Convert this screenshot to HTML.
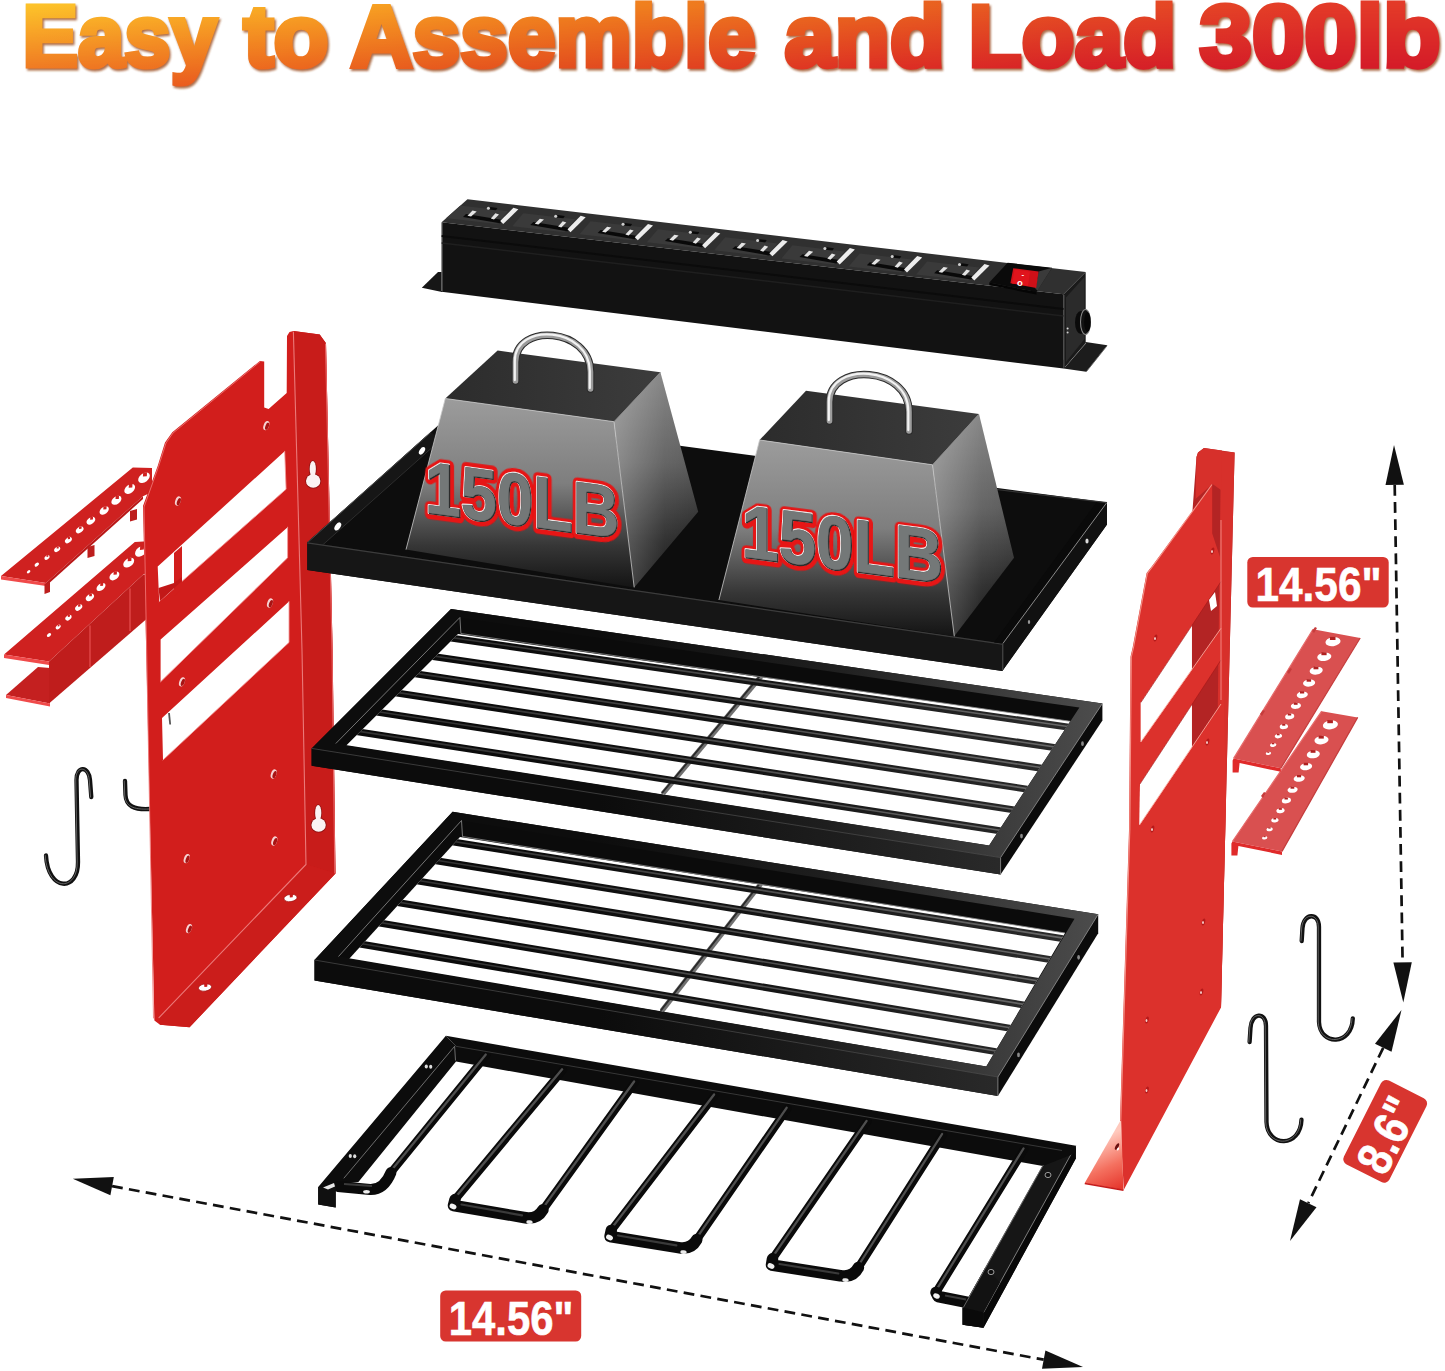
<!DOCTYPE html>
<html lang="en"><head><meta charset="utf-8"><title>Easy to Assemble and Load 300lb</title>
<style>
html,body{margin:0;padding:0;background:#fff;}
body{width:1445px;height:1371px;overflow:hidden;font-family:"Liberation Sans",sans-serif;}
svg{display:block;}
</style></head><body>
<svg width="1445" height="1371" viewBox="0 0 1445 1371">
<rect width="1445" height="1371" fill="#ffffff"/>
<defs>
<linearGradient id="hg" gradientUnits="userSpaceOnUse" x1="20" y1="0" x2="1440" y2="0">
<stop offset="0" stop-color="#f7a51e"/><stop offset="0.16" stop-color="#f3901f"/><stop offset="0.38" stop-color="#ec6a22"/>
<stop offset="0.62" stop-color="#e3402a"/><stop offset="0.82" stop-color="#db2430"/><stop offset="1" stop-color="#d51a32"/>
</linearGradient>
<linearGradient id="hv" gradientUnits="userSpaceOnUse" x1="0" y1="4" x2="0" y2="90">
<stop offset="0" stop-color="#ffd23a" stop-opacity="0.55"/><stop offset="0.55" stop-color="#ffb030" stop-opacity="0.08"/><stop offset="1" stop-color="#d01020" stop-opacity="0.25"/>
</linearGradient>
<linearGradient id="wf" x1="0" y1="0" x2="0" y2="1">
<stop offset="0" stop-color="#9c9c9c"/><stop offset="0.45" stop-color="#7e7e7e"/><stop offset="0.78" stop-color="#363636"/><stop offset="1" stop-color="#141414"/>
</linearGradient>
<linearGradient id="wr" x1="0" y1="0" x2="0" y2="1">
<stop offset="0" stop-color="#808080"/><stop offset="0.42" stop-color="#5c5c5c"/><stop offset="0.78" stop-color="#262626"/><stop offset="1" stop-color="#0e0e0e"/>
</linearGradient>
<linearGradient id="wrh" x1="0" y1="0" x2="1" y2="0">
<stop offset="0" stop-color="#fff" stop-opacity="0.30"/><stop offset="0.6" stop-color="#fff" stop-opacity="0.06"/><stop offset="1" stop-color="#fff" stop-opacity="0"/>
</linearGradient>
<linearGradient id="wt" x1="0" y1="0" x2="1" y2="0">
<stop offset="0" stop-color="#2c2c2c"/><stop offset="1" stop-color="#3c3c3c"/>
</linearGradient>
<filter id="glow" x="-5%" y="-15%" width="110%" height="130%"><feGaussianBlur stdDeviation="0.6"/></filter>
<linearGradient id="hd" x1="0" y1="0" x2="1" y2="0">
<stop offset="0" stop-color="#8a8a8a"/><stop offset="0.5" stop-color="#e8e8e8"/><stop offset="1" stop-color="#777"/>
</linearGradient>
</defs>
<defs>
<linearGradient id="hgt" gradientUnits="userSpaceOnUse" x1="20" y1="0" x2="1440" y2="0"><stop offset="0.007" stop-color="#fdc32a"/><stop offset="0.197" stop-color="#f9aa24"/><stop offset="0.380" stop-color="#f2881e"/><stop offset="0.599" stop-color="#ea691e"/><stop offset="0.739" stop-color="#e65023"/><stop offset="0.915" stop-color="#e33a28"/></linearGradient>
<linearGradient id="hgb" gradientUnits="userSpaceOnUse" x1="20" y1="0" x2="1440" y2="0"><stop offset="0.007" stop-color="#ec6621"/><stop offset="0.197" stop-color="#e8541c"/><stop offset="0.380" stop-color="#df3e1e"/><stop offset="0.599" stop-color="#da2025"/><stop offset="0.739" stop-color="#d21428"/><stop offset="0.915" stop-color="#d01228"/></linearGradient>
<linearGradient id="hmv" gradientUnits="userSpaceOnUse" x1="0" y1="5" x2="0" y2="86"><stop offset="0" stop-color="#000"/><stop offset="1" stop-color="#fff"/></linearGradient>
<mask id="hm" maskUnits="userSpaceOnUse" x="0" y="0" width="1445" height="120"><rect width="1445" height="120" fill="url(#hmv)"/></mask>
<pattern id="hp" patternUnits="userSpaceOnUse" x="0" y="0" width="1445" height="120"><rect width="1445" height="120" fill="url(#hgt)"/><rect width="1445" height="120" fill="url(#hgb)" mask="url(#hm)"/></pattern>
<filter id="hsh" x="-2%" y="-10%" width="104%" height="130%"><feGaussianBlur stdDeviation="0.9"/></filter></defs>
<g font-family="'Liberation Sans', sans-serif" font-weight="700" font-size="88" fill="#9a4a1c" stroke="#9a4a1c" stroke-width="5.0" stroke-linejoin="miter" stroke-miterlimit="2.5" opacity="0.8" filter="url(#hsh)">
<text x="23.9" y="67.8" textLength="194.2" lengthAdjust="spacingAndGlyphs">Easy</text>
<text x="244.9" y="67.8" textLength="85.2" lengthAdjust="spacingAndGlyphs">to</text>
<text x="351.9" y="67.8" textLength="405.1" lengthAdjust="spacingAndGlyphs">Assemble</text>
<text x="785.9" y="67.8" textLength="160.4" lengthAdjust="spacingAndGlyphs">and</text>
<text x="969.9" y="67.8" textLength="207.6" lengthAdjust="spacingAndGlyphs">Load</text>
<text x="1200.9" y="67.8" textLength="241.1" lengthAdjust="spacingAndGlyphs">300lb</text>
</g>
<g font-family="'Liberation Sans', sans-serif" font-weight="700" font-size="88" fill="url(#hp)" stroke="url(#hp)" stroke-width="5.0" stroke-linejoin="miter" stroke-miterlimit="2.5" >
<text x="22.5" y="66.0" textLength="194.2" lengthAdjust="spacingAndGlyphs">Easy</text>
<text x="243.5" y="66.0" textLength="85.2" lengthAdjust="spacingAndGlyphs">to</text>
<text x="350.5" y="66.0" textLength="405.1" lengthAdjust="spacingAndGlyphs">Assemble</text>
<text x="784.5" y="66.0" textLength="160.4" lengthAdjust="spacingAndGlyphs">and</text>
<text x="968.5" y="66.0" textLength="207.6" lengthAdjust="spacingAndGlyphs">Load</text>
<text x="1199.5" y="66.0" textLength="241.1" lengthAdjust="spacingAndGlyphs">300lb</text>
</g>
<polygon points="421.8,287.8 438.0,272.0 442.0,272.0 442.0,292.0" fill="#161616" />
<polygon points="1063.5,360.0 1085.7,341.9 1107.3,345.2 1086.2,371.8 1063.5,368.5" fill="#1c1c1c" />
<line x1="1065.0" y1="367.0" x2="1086.0" y2="343.0" stroke="#8a8a8a" stroke-width="0.9" />
<line x1="1086.5" y1="371.5" x2="1107.0" y2="345.8" stroke="#555" stroke-width="0.8" />
<polygon points="467.5,199.3 1085.7,272.1 1063.5,294.3 441.6,222.3" fill="#303030" />
<polygon points="441.6,222.3 1063.5,294.3 1063.5,368.5 441.6,291.8" fill="#121212" />
<polygon points="1063.5,294.3 1085.7,272.1 1085.7,341.9 1063.5,368.5" fill="#1a1a1a" />
<polygon points="1066.0,297.5 1084.5,277.0 1084.5,339.0 1066.0,362.0" fill="#2b2b2b" />
<line x1="441.9" y1="223.0" x2="441.9" y2="291.0" stroke="#8f8f8f" stroke-width="1.0" />
<line x1="1064.0" y1="295.0" x2="1064.0" y2="367.5" stroke="#4a4a4a" stroke-width="1.0" />
<line x1="441.6" y1="243.0" x2="1063.5" y2="316.0" stroke="#1f1f1f" stroke-width="1.5" />
<line x1="441.6" y1="236.0" x2="1063.5" y2="309.0" stroke="#0b0b0b" stroke-width="2.0" />
<ellipse cx="1081" cy="322.5" rx="6" ry="11.5" fill="#0a0a0a"/>
<ellipse cx="1085.5" cy="322" rx="5" ry="12.5" fill="#111" stroke="#8a8a8a" stroke-width="1.1"/>
<ellipse cx="1087.5" cy="322" rx="3.3" ry="10" fill="#060606"/>
<circle cx="1067.6" cy="328.5" r="1" fill="#ddd"/><circle cx="1067.6" cy="332.5" r="1" fill="#ccc"/>
<clipPath id="cps"><polygon points="467.5,199.3 1085.7,272.1 1063.5,294.3 441.6,222.3"/></clipPath><g clip-path="url(#cps)">
<polygon points="456.0,205.1 508.0,211.2 497.0,224.1 445.0,218.1" fill="#3a3a3a" />
<polygon points="463.0,216.9 500.0,223.2 503.0,219.9 466.0,214.0" fill="#090909" />
<polygon points="490.5,207.0 497.5,207.9 496.0,210.2 489.0,209.4" fill="#0a0a0a" />
<polygon points="513.4,207.8 518.4,209.3 503.2,224.1 500.2,221.1" fill="#ededed" />
<polygon points="472.5,210.6 476.7,211.4 471.1,216.5 467.5,215.7" fill="#e4e4e4" />
<polygon points="495.4,213.3 499.0,214.5 494.0,219.5 490.8,218.4" fill="#e4e4e4" />
<circle cx="488.4" cy="208.2" r="1.5" fill="#cfcfcf"/>
<polygon points="523.3,213.2 575.3,219.2 564.3,232.2 512.3,226.2" fill="#3a3a3a" />
<polygon points="530.3,225.0 567.3,231.2 570.3,228.0 533.3,222.1" fill="#090909" />
<polygon points="557.8,215.1 564.8,216.0 563.3,218.2 556.3,217.5" fill="#0a0a0a" />
<polygon points="580.7,215.8 585.7,217.3 570.5,232.2 567.5,229.2" fill="#ededed" />
<polygon points="539.8,218.7 544.0,219.5 538.4,224.6 534.8,223.8" fill="#e4e4e4" />
<polygon points="562.7,221.3 566.3,222.6 561.3,227.6 558.1,226.5" fill="#e4e4e4" />
<circle cx="555.7" cy="216.2" r="1.5" fill="#cfcfcf"/>
<polygon points="590.6,221.2 642.6,227.3 631.6,240.2 579.6,234.2" fill="#3a3a3a" />
<polygon points="597.6,233.0 634.6,239.3 637.6,236.0 600.6,230.1" fill="#090909" />
<polygon points="625.1,223.1 632.1,224.0 630.6,226.3 623.6,225.5" fill="#0a0a0a" />
<polygon points="648.0,223.9 653.0,225.4 637.8,240.2 634.8,237.2" fill="#ededed" />
<polygon points="607.1,226.7 611.3,227.5 605.7,232.6 602.1,231.8" fill="#e4e4e4" />
<polygon points="630.0,229.4 633.6,230.6 628.6,235.6 625.4,234.5" fill="#e4e4e4" />
<circle cx="623.0" cy="224.3" r="1.5" fill="#cfcfcf"/>
<polygon points="657.9,229.2 709.9,235.3 698.9,248.2 646.9,242.2" fill="#3a3a3a" />
<polygon points="664.9,241.1 701.9,247.3 704.9,244.1 667.9,238.2" fill="#090909" />
<polygon points="692.4,231.2 699.4,232.1 697.9,234.3 690.9,233.6" fill="#0a0a0a" />
<polygon points="715.3,231.9 720.3,233.4 705.1,248.2 702.1,245.2" fill="#ededed" />
<polygon points="674.4,234.8 678.6,235.6 673.0,240.7 669.4,239.8" fill="#e4e4e4" />
<polygon points="697.3,237.4 700.9,238.7 695.9,243.7 692.7,242.6" fill="#e4e4e4" />
<circle cx="690.3" cy="232.3" r="1.5" fill="#cfcfcf"/>
<polygon points="725.2,237.3 777.2,243.4 766.2,256.3 714.2,250.3" fill="#3a3a3a" />
<polygon points="732.2,249.1 769.2,255.4 772.2,252.1 735.2,246.2" fill="#090909" />
<polygon points="759.7,239.2 766.7,240.1 765.2,242.4 758.2,241.6" fill="#0a0a0a" />
<polygon points="782.6,240.0 787.6,241.5 772.4,256.3 769.4,253.3" fill="#ededed" />
<polygon points="741.7,242.8 745.9,243.6 740.3,248.7 736.7,247.9" fill="#e4e4e4" />
<polygon points="764.6,245.5 768.2,246.7 763.2,251.7 760.0,250.6" fill="#e4e4e4" />
<circle cx="757.6" cy="240.4" r="1.5" fill="#cfcfcf"/>
<polygon points="792.5,245.3 844.5,251.4 833.5,264.4 781.5,258.4" fill="#3a3a3a" />
<polygon points="799.5,257.1 836.5,263.4 839.5,260.1 802.5,254.2" fill="#090909" />
<polygon points="827.0,247.2 834.0,248.2 832.5,250.4 825.5,249.7" fill="#0a0a0a" />
<polygon points="849.9,248.0 854.9,249.5 839.7,264.4 836.7,261.4" fill="#ededed" />
<polygon points="809.0,250.8 813.2,251.7 807.6,256.8 804.0,255.9" fill="#e4e4e4" />
<polygon points="831.9,253.5 835.5,254.8 830.5,259.8 827.3,258.6" fill="#e4e4e4" />
<circle cx="824.9" cy="248.4" r="1.5" fill="#cfcfcf"/>
<polygon points="859.8,253.4 911.8,259.5 900.8,272.4 848.8,266.4" fill="#3a3a3a" />
<polygon points="866.8,265.2 903.8,271.5 906.8,268.2 869.8,262.3" fill="#090909" />
<polygon points="894.3,255.3 901.3,256.2 899.8,258.5 892.8,257.7" fill="#0a0a0a" />
<polygon points="917.2,256.1 922.2,257.6 907.0,272.4 904.0,269.4" fill="#ededed" />
<polygon points="876.3,258.9 880.5,259.7 874.9,264.8 871.3,264.0" fill="#e4e4e4" />
<polygon points="899.2,261.6 902.8,262.8 897.8,267.8 894.6,266.7" fill="#e4e4e4" />
<circle cx="892.2" cy="256.5" r="1.5" fill="#cfcfcf"/>
<polygon points="927.1,261.4 979.1,267.6 968.1,280.4 916.1,274.4" fill="#3a3a3a" />
<polygon points="934.1,273.2 971.1,279.6 974.1,276.2 937.1,270.3" fill="#090909" />
<polygon points="961.6,263.3 968.6,264.2 967.1,266.6 960.1,265.8" fill="#0a0a0a" />
<polygon points="984.5,264.1 989.5,265.6 974.3,280.4 971.3,277.4" fill="#ededed" />
<polygon points="943.6,266.9 947.8,267.8 942.2,272.8 938.6,272.1" fill="#e4e4e4" />
<polygon points="966.5,269.6 970.1,270.8 965.1,275.8 961.9,274.8" fill="#e4e4e4" />
<circle cx="959.5" cy="264.6" r="1.5" fill="#cfcfcf"/>
</g>
<polygon points="1007.6,262.7 1052.0,267.7 1036.4,292.0 989.3,282.6" fill="#0a0a0a" />
<polygon points="1038.6,271.6 1052.0,267.7 1037.6,290.5 1035.3,288.7" fill="#3a3a3a" />
<polygon points="1013.2,268.2 1038.6,271.6 1036.2,288.0 1010.4,283.2" fill="#cf1018" />
<polygon points="1014.5,269.5 1030.0,271.6 1028.0,286.0 1012.0,283.4" fill="#e0141c" />
<g font-family="'Liberation Sans',sans-serif" font-weight="700" fill="#fff"><text x="1021.5" y="276.8" font-size="8">-</text><text x="1017" y="286.2" font-size="9.5">o</text></g>
<polygon points="989.3,282.6 1036.4,292.0 1036.4,294.5 989.3,285.0" fill="#050505" />
<polygon points="1.0,576.0 132.8,467.6 152.0,468.0 152.0,492.0 143.0,496.2 46.0,583.0" fill="#cf2120" />
<polygon points="1.0,576.0 46.0,583.0 46.0,586.0 1.0,579.5" fill="#f04a4a" />
<polygon points="46.0,583.0 143.0,496.2 143.0,499.0 46.0,586.0" fill="#b91717" />
<polygon points="44.5,584.0 50.0,582.0 50.0,592.0 44.5,594.0" fill="#bd1e1d" />
<polygon points="87.5,547.0 94.5,545.0 94.5,556.0 87.5,558.0" fill="#bd1e1d" />
<polygon points="130.0,511.0 137.0,509.0 137.0,519.5 130.0,521.5" fill="#bd1e1d" />
<ellipse cx="28.6" cy="571.8" rx="2.0" ry="1.3" fill="#fff" transform="rotate(-38 28.6 571.8)"/>
<ellipse cx="36.8" cy="564.6" rx="2.5" ry="1.6" fill="#fff" transform="rotate(-38 36.8 564.6)"/>
<ellipse cx="47.0" cy="557.5" rx="3.0" ry="1.9" fill="#fff" transform="rotate(-38 47.0 557.5)"/>
<polygon points="46.6,555.2 48.4,555.0 48.2,556.8 46.5,556.9" fill="#cf2120" />
<ellipse cx="57.2" cy="549.3" rx="3.4" ry="2.2" fill="#fff" transform="rotate(-38 57.2 549.3)"/>
<polygon points="56.8,546.6 58.8,546.5 58.6,548.4 56.6,548.6" fill="#cf2120" />
<ellipse cx="68.4" cy="540.1" rx="3.9" ry="2.5" fill="#fff" transform="rotate(-38 68.4 540.1)"/>
<polygon points="67.9,537.0 70.2,536.9 70.0,539.1 67.8,539.3" fill="#cf2120" />
<ellipse cx="79.7" cy="529.9" rx="4.3" ry="2.8" fill="#fff" transform="rotate(-38 79.7 529.9)"/>
<polygon points="79.2,526.5 81.7,526.3 81.5,528.8 79.0,529.0" fill="#cf2120" />
<ellipse cx="90.9" cy="520.7" rx="4.8" ry="3.1" fill="#fff" transform="rotate(-38 90.9 520.7)"/>
<polygon points="90.3,516.9 93.1,516.7 92.9,519.5 90.1,519.7" fill="#cf2120" />
<ellipse cx="104.2" cy="510.5" rx="5.2" ry="3.4" fill="#fff" transform="rotate(-38 104.2 510.5)"/>
<polygon points="103.5,506.4 106.6,506.1 106.4,509.2 103.3,509.4" fill="#cf2120" />
<ellipse cx="116.4" cy="500.3" rx="5.7" ry="3.7" fill="#fff" transform="rotate(-38 116.4 500.3)"/>
<polygon points="115.7,495.8 119.0,495.6 118.8,498.9 115.5,499.1" fill="#cf2120" />
<ellipse cx="129.7" cy="489.0" rx="6.1" ry="4.0" fill="#fff" transform="rotate(-38 129.7 489.0)"/>
<polygon points="128.9,484.1 132.5,483.9 132.3,487.5 128.7,487.7" fill="#cf2120" />
<ellipse cx="144.0" cy="477.8" rx="6.6" ry="4.3" fill="#fff" transform="rotate(-38 144.0 477.8)"/>
<polygon points="143.2,472.6 147.0,472.3 146.8,476.2 142.9,476.4" fill="#cf2120" />
<polygon points="6.0,695.0 38.0,667.0 50.0,668.0 50.0,703.5" fill="#c42020" />
<polygon points="6.0,695.0 50.0,703.5 50.0,706.5 6.0,698.0" fill="#f04a4a" />
<polygon points="49.0,661.6 143.0,574.8 150.0,575.0 150.0,616.0 49.0,703.5" fill="#bf1d1c" />
<polygon points="4.0,654.5 134.8,542.1 152.0,541.0 152.0,570.0 143.0,574.8 49.0,661.6" fill="#cf2120" />
<polygon points="4.0,654.5 49.0,661.6 49.0,665.0 4.0,658.0" fill="#f04a4a" />
<line x1="90.0" y1="625.5" x2="90.0" y2="667.0" stroke="#e85050" stroke-width="1.2" />
<line x1="130.0" y1="588.5" x2="130.0" y2="631.0" stroke="#e85050" stroke-width="1.2" />
<ellipse cx="49.0" cy="635.0" rx="2.4" ry="1.6" fill="#fff" transform="rotate(-38 49.0 635.0)"/>
<ellipse cx="58.2" cy="627.0" rx="2.9" ry="1.9" fill="#fff" transform="rotate(-38 58.2 627.0)"/>
<polygon points="57.8,624.7 59.5,624.5 59.4,626.3 57.7,626.4" fill="#cf2120" />
<ellipse cx="68.4" cy="617.7" rx="3.5" ry="2.3" fill="#fff" transform="rotate(-38 68.4 617.7)"/>
<polygon points="68.0,614.9 70.0,614.8 69.9,616.8 67.8,617.0" fill="#cf2120" />
<ellipse cx="78.7" cy="607.5" rx="4.0" ry="2.6" fill="#fff" transform="rotate(-38 78.7 607.5)"/>
<polygon points="78.2,604.3 80.5,604.1 80.4,606.5 78.0,606.7" fill="#cf2120" />
<ellipse cx="89.9" cy="597.3" rx="4.6" ry="3.0" fill="#fff" transform="rotate(-38 89.9 597.3)"/>
<polygon points="89.3,593.7 92.0,593.5 91.8,596.2 89.1,596.3" fill="#cf2120" />
<ellipse cx="101.0" cy="587.0" rx="5.1" ry="3.3" fill="#fff" transform="rotate(-38 101.0 587.0)"/>
<polygon points="100.4,583.0 103.3,582.8 103.1,585.7 100.2,585.9" fill="#cf2120" />
<ellipse cx="114.4" cy="575.9" rx="5.6" ry="3.7" fill="#fff" transform="rotate(-38 114.4 575.9)"/>
<polygon points="113.7,571.4 117.0,571.2 116.8,574.5 113.5,574.7" fill="#cf2120" />
<ellipse cx="128.7" cy="562.6" rx="6.2" ry="4.0" fill="#fff" transform="rotate(-38 128.7 562.6)"/>
<polygon points="127.9,557.7 131.5,557.5 131.3,561.1 127.7,561.3" fill="#cf2120" />
<ellipse cx="141.0" cy="551.3" rx="6.7" ry="4.4" fill="#fff" transform="rotate(-38 141.0 551.3)"/>
<polygon points="140.2,546.0 144.1,545.7 143.8,549.6 139.9,549.9" fill="#cf2120" />
<path d="M125,781 L125.5,795 C126,806 134,810 150,809" fill="none" stroke="#111" stroke-width="4.3" stroke-linecap="round" stroke-linejoin="round"/>
<path d="M125,781 L125.5,795 C126,806 134,810 150,809" fill="none" stroke="#8a8a8a" stroke-width="0.9" stroke-linecap="round" transform="translate(-0.8,0)" opacity="0.75"/>
<path d="M91.3,797 L90,780 C89,766 76.5,765 76.5,780 L78,862 C78.5,892 48,892 46,855.5" fill="none" stroke="#111" stroke-width="4.3" stroke-linecap="round" stroke-linejoin="round"/>
<path d="M91.3,797 L90,780 C89,766 76.5,765 76.5,780 L78,862 C78.5,892 48,892 46,855.5" fill="none" stroke="#8a8a8a" stroke-width="0.9" stroke-linecap="round" transform="translate(-0.8,0)" opacity="0.75"/>
<path fill-rule="evenodd" fill="#d21e1c" d="M287.0,336.0 L289.5,332.0 L293.4,331.0 L319.7,334.6 L326.0,343.3 L332.6,650.0 L335.5,873.5 L189.6,1027.2 L160.0,1024.8 L154.4,1020.6 L143.0,506.0 L157.7,465.9 L165.0,442.6 L172.3,432.3 L259.9,360.9 L264.2,361.5 L264.2,407.5 L268.6,409.0 L286.7,393.0 Z M157.7,566.6 L284.7,451.3 L286.1,489.2 L159.2,601.6 Z M160.6,639.5 L287.6,527.2 L287.6,557.8 L160.6,681.8 Z M162.0,718.0 L289.0,601.6 L289.0,642.4 L163.0,760.0 Z"/>
<polygon points="293.4,331.0 319.7,334.6 326.0,343.3 332.6,650.0 335.5,873.5 306.0,864.5 302.0,650.0" fill="#c81c1a" />
<polygon points="306.0,864.5 335.5,873.5 189.6,1027.2 160.0,1024.8 159.0,1017.6" fill="#cb1d1b" />
<polyline points="293.4,332.0 302.0,650.0 306.0,864.5 159.0,1017.6" fill="none" stroke="#f08a8a" stroke-width="1.1" stroke-linecap="round" opacity="0.85"/>
<polyline points="153.5,1018.0 144.0,507.0 158.5,466.5 166.0,443.0 173.0,433.0 260.0,361.8" fill="none" stroke="#ee7777" stroke-width="1.0" stroke-linecap="round" opacity="0.85"/>
<polyline points="325.5,344.0 332.0,650.0 334.8,873.0" fill="none" stroke="#ee7777" stroke-width="1.0" stroke-linecap="round" opacity="0.85"/>
<polyline points="159.2,601.6 286.1,489.2 284.7,451.3" fill="none" stroke="#f29a9a" stroke-width="1.0" stroke-linecap="round" opacity="0.85"/>
<polyline points="160.6,681.8 287.6,557.8 287.6,527.2" fill="none" stroke="#f29a9a" stroke-width="1.0" stroke-linecap="round" opacity="0.85"/>
<polyline points="163.0,760.0 289.0,642.4 289.0,601.6" fill="none" stroke="#f29a9a" stroke-width="1.0" stroke-linecap="round" opacity="0.85"/>
<polygon points="174.0,553.0 182.0,546.0 182.0,589.0 174.0,596.0" fill="#d21e1c" />
<polygon points="158.5,588.0 174.0,583.0 182.0,577.0 182.0,581.0 160.0,601.0" fill="#c21818" />
<line x1="169.0" y1="713.0" x2="170.2" y2="724.5" stroke="#555" stroke-width="1.8" />
<g transform="rotate(20 266.3 425.6)"><ellipse cx="266.3" cy="425.6" rx="2.7" ry="4.8" fill="#f6d2d2"/><ellipse cx="267.3" cy="425.9" rx="1.7" ry="3.8" fill="#a91313"/></g>
<g transform="rotate(20 178.0 501.0)"><ellipse cx="178.0" cy="501.0" rx="2.7" ry="4.8" fill="#f6d2d2"/><ellipse cx="179.0" cy="501.3" rx="1.7" ry="3.8" fill="#a91313"/></g>
<g transform="rotate(20 270.0 603.0)"><ellipse cx="270.0" cy="603.0" rx="2.7" ry="4.8" fill="#f6d2d2"/><ellipse cx="271.0" cy="603.3" rx="1.7" ry="3.8" fill="#a91313"/></g>
<g transform="rotate(20 182.0 681.8)"><ellipse cx="182.0" cy="681.8" rx="2.7" ry="4.8" fill="#f6d2d2"/><ellipse cx="183.0" cy="682.1" rx="1.7" ry="3.8" fill="#a91313"/></g>
<g transform="rotate(20 273.7 774.0)"><ellipse cx="273.7" cy="774.0" rx="2.7" ry="4.8" fill="#f6d2d2"/><ellipse cx="274.7" cy="774.3" rx="1.7" ry="3.8" fill="#a91313"/></g>
<g transform="rotate(20 274.3 841.0)"><ellipse cx="274.3" cy="841.0" rx="2.7" ry="4.8" fill="#f6d2d2"/><ellipse cx="275.3" cy="841.3" rx="1.7" ry="3.8" fill="#a91313"/></g>
<g transform="rotate(20 186.7 858.6)"><ellipse cx="186.7" cy="858.6" rx="2.7" ry="4.8" fill="#f6d2d2"/><ellipse cx="187.7" cy="858.9" rx="1.7" ry="3.8" fill="#a91313"/></g>
<g transform="rotate(20 189.0 928.6)"><ellipse cx="189.0" cy="928.6" rx="2.7" ry="4.8" fill="#f6d2d2"/><ellipse cx="190.0" cy="928.9" rx="1.7" ry="3.8" fill="#a91313"/></g>
<ellipse cx="290.5" cy="898.0" rx="6.6" ry="3.6" fill="#fff" stroke="#a01212" stroke-width="0.7" transform="rotate(-8 290.5 898.0)"/>
<polygon points="289.5,893.8 293.1,893.6 292.7,897.2 289.9,897.6" fill="#c91a1a" />
<ellipse cx="205.0" cy="987.5" rx="6.6" ry="3.6" fill="#fff" stroke="#a01212" stroke-width="0.7" transform="rotate(-8 205.0 987.5)"/>
<polygon points="204.0,983.3 207.6,983.1 207.2,986.7 204.4,987.1" fill="#c91a1a" />
<ellipse cx="312.8" cy="469.0" rx="3.1" ry="8" fill="#fbf3f3" stroke="#8f1111" stroke-width="1.6"/>
<ellipse cx="313.2" cy="481.0" rx="7.2" ry="6.8" fill="#fbf3f3" stroke="#8f1111" stroke-width="1.6"/>
<ellipse cx="312.8" cy="469.0" rx="3.1" ry="8" fill="#fbf3f3" />
<ellipse cx="313.2" cy="481.0" rx="7.2" ry="6.8" fill="#fbf3f3" />
<ellipse cx="318.2" cy="813.0" rx="3.1" ry="8" fill="#fbf3f3" stroke="#8f1111" stroke-width="1.6"/>
<ellipse cx="318.6" cy="825.0" rx="7.2" ry="6.8" fill="#fbf3f3" stroke="#8f1111" stroke-width="1.6"/>
<ellipse cx="318.2" cy="813.0" rx="3.1" ry="8" fill="#fbf3f3" />
<ellipse cx="318.6" cy="825.0" rx="7.2" ry="6.8" fill="#fbf3f3" />
<polygon points="449.8,415.0 1107.0,502.6 1107.0,524.4 1002.3,671.0 307.3,570.0 307.3,542.3" fill="#0d0d0d" />
<polygon points="430.8,432.0 440.0,440.0 322.0,545.5 307.3,542.3" fill="#161616" />
<line x1="440.0" y1="440.5" x2="322.0" y2="545.5" stroke="#2e2e2e" stroke-width="1.0" />
<line x1="430.8" y1="432.5" x2="307.8" y2="542.3" stroke="#4a4a4a" stroke-width="1.0" />
<polygon points="307.3,542.3 1002.3,643.6 1002.3,671.0 307.3,570.0" fill="#161616" />
<line x1="307.3" y1="542.8" x2="1002.3" y2="644.1" stroke="#3c3c3c" stroke-width="1.2" />
<polygon points="1107.0,502.6 1107.0,524.4 1002.3,671.0 1002.3,643.6" fill="#111111" />
<polygon points="1107.0,502.6 1002.3,643.6 994.0,642.4 1097.0,501.6" fill="#0a0a0a" />
<line x1="1106.5" y1="503.0" x2="1002.8" y2="643.6" stroke="#8a8a8a" stroke-width="1.0" />
<line x1="1002.8" y1="644.0" x2="1002.8" y2="670.0" stroke="#555" stroke-width="1.0" />
<line x1="996.5" y1="489.5" x2="1107.0" y2="502.6" stroke="#333" stroke-width="1.2" />
<ellipse cx="422" cy="450.8" rx="2.4" ry="4.2" fill="#fff" transform="rotate(35 422 450.8)"/>
<ellipse cx="337.8" cy="526.4" rx="2.6" ry="4.6" fill="#fff" transform="rotate(35 337.8 526.4)"/>
<ellipse cx="1087" cy="541" rx="1.6" ry="2.6" fill="#ddd"/>
<ellipse cx="1029" cy="622" rx="1.2" ry="2.0" fill="#999"/>
<polygon points="614.0,421.7 660.4,372.3 698.2,511.8 634.2,587.4" fill="url(#wr)" />
<polygon points="614.0,421.7 660.4,372.3 698.2,511.8 634.2,587.4" fill="url(#wrh)" />
<polygon points="445.3,398.5 614.0,421.7 634.2,587.4 406.0,549.6" fill="url(#wf)" />
<polygon points="445.3,398.5 497.6,350.5 660.4,372.3 614.0,421.7" fill="url(#wt)" />
<polyline points="406.0,549.6 445.3,398.5 614.0,421.7 634.2,587.4" fill="none" stroke="#c9c9c9" stroke-width="1.0" opacity="0.8"/>
<line x1="614.0" y1="421.7" x2="660.4" y2="372.3" stroke="#8a8a8a" stroke-width="0.8" />
<path d="M515.5,381 L515.5,362 C515.5,322 590.5,328 590.5,372 L590.5,389" fill="none" stroke="#2a2a2a" stroke-width="7.6" stroke-linecap="round"/>
<path d="M515.5,381 L515.5,362 C515.5,322 590.5,328 590.5,372 L590.5,389" fill="none" stroke="#9c9c9c" stroke-width="5.6" stroke-linecap="round"/>
<path d="M515.5,381 L515.5,362 C515.5,322 590.5,328 590.5,372 L590.5,389" fill="none" stroke="#f2f2f2" stroke-width="2.2" stroke-linecap="round" transform="translate(-0.7,-0.9)"/>
<g transform="translate(424.8,512.3) matrix(1,0.134,0,1,0,0)" font-family="'Liberation Sans',sans-serif" font-weight="700" font-size="73.5">
<text x="0" y="0" textLength="194.5" lengthAdjust="spacingAndGlyphs" fill="#e61212" stroke="#e61212" stroke-width="10.4" stroke-linejoin="round" filter="url(#glow)" transform="translate(0.6,1.0)">150LB</text>
<text x="0" y="0" textLength="194.5" lengthAdjust="spacingAndGlyphs" fill="#e8e8e8" stroke="#e8e8e8" stroke-width="2.6" stroke-linejoin="round">150LB</text>
<text x="0" y="0" textLength="194.5" lengthAdjust="spacingAndGlyphs" fill="#2c2c2c" stroke="#2c2c2c" stroke-width="1.5" stroke-linejoin="round" transform="translate(0.6,0.7)">150LB</text>
<text x="0" y="0" textLength="194.5" lengthAdjust="spacingAndGlyphs" fill="#747878" stroke="#747878" stroke-width="0.5" stroke-linejoin="round">150LB</text>
</g>
<polygon points="932.5,464.8 979.0,414.0 1014.0,557.8 954.3,636.3" fill="url(#wr)" />
<polygon points="932.5,464.8 979.0,414.0 1014.0,557.8 954.3,636.3" fill="url(#wrh)" />
<polygon points="759.6,440.0 932.5,464.8 954.3,636.3 718.9,600.0" fill="url(#wf)" />
<polygon points="759.6,440.0 806.0,390.7 979.0,414.0 932.5,464.8" fill="url(#wt)" />
<polyline points="718.9,600.0 759.6,440.0 932.5,464.8 954.3,636.3" fill="none" stroke="#c9c9c9" stroke-width="1.0" opacity="0.8"/>
<line x1="932.5" y1="464.8" x2="979.0" y2="414.0" stroke="#8a8a8a" stroke-width="0.8" />
<path d="M829.5,421 L829.5,402 C829.5,362 909,366 909,412 L909,431" fill="none" stroke="#2a2a2a" stroke-width="7.6" stroke-linecap="round"/>
<path d="M829.5,421 L829.5,402 C829.5,362 909,366 909,412 L909,431" fill="none" stroke="#9c9c9c" stroke-width="5.6" stroke-linecap="round"/>
<path d="M829.5,421 L829.5,402 C829.5,362 909,366 909,412 L909,431" fill="none" stroke="#f2f2f2" stroke-width="2.2" stroke-linecap="round" transform="translate(-0.7,-0.9)"/>
<g transform="translate(741.4,556.5) matrix(1,0.130,0,1,0,0)" font-family="'Liberation Sans',sans-serif" font-weight="700" font-size="75.0">
<text x="0" y="0" textLength="201.5" lengthAdjust="spacingAndGlyphs" fill="#e61212" stroke="#e61212" stroke-width="10.4" stroke-linejoin="round" filter="url(#glow)" transform="translate(0.6,1.0)">150LB</text>
<text x="0" y="0" textLength="201.5" lengthAdjust="spacingAndGlyphs" fill="#e8e8e8" stroke="#e8e8e8" stroke-width="2.6" stroke-linejoin="round">150LB</text>
<text x="0" y="0" textLength="201.5" lengthAdjust="spacingAndGlyphs" fill="#2c2c2c" stroke="#2c2c2c" stroke-width="1.5" stroke-linejoin="round" transform="translate(0.6,0.7)">150LB</text>
<text x="0" y="0" textLength="201.5" lengthAdjust="spacingAndGlyphs" fill="#747878" stroke="#747878" stroke-width="0.5" stroke-linejoin="round">150LB</text>
</g>
<defs><linearGradient id="gt" gradientUnits="userSpaceOnUse" x1="600" y1="0" x2="1100" y2="0">
<stop offset="0" stop-color="#0d0d0d"/><stop offset="0.45" stop-color="#1e1e1e"/><stop offset="0.8" stop-color="#3c3c3c"/><stop offset="1" stop-color="#4c4c4c"/></linearGradient>
<linearGradient id="gw" gradientUnits="userSpaceOnUse" x1="500" y1="0" x2="1080" y2="0">
<stop offset="0" stop-color="#0b0b0b"/><stop offset="0.5" stop-color="#161616"/><stop offset="1" stop-color="#2c2c2c"/></linearGradient>
<linearGradient id="gh" gradientUnits="userSpaceOnUse" x1="450" y1="0" x2="1080" y2="0">
<stop offset="0" stop-color="#333"/><stop offset="1" stop-color="#6a6a6a"/></linearGradient>
<linearGradient id="gf" gradientUnits="userSpaceOnUse" x1="600" y1="0" x2="1010" y2="0">
<stop offset="0" stop-color="#0c0c0c"/><stop offset="1" stop-color="#2a2a2a"/></linearGradient>
</defs>
<polygon points="451.0,609.0 1102.4,703.5 1102.4,720.5 1000.6,874.6 311.6,765.8 311.6,748.4" fill="#0b0b0b" />
<polygon points="311.6,748.4 1000.6,857.6 1000.6,874.6 311.6,765.8" fill="url(#gf)" />
<polygon points="458.0,634.0 1070.3,721.3 989.1,845.4 346.0,745.7" fill="#ffffff" />
<clipPath id="cg1"><polygon points="458.0,634.0 1070.3,721.3 989.1,845.4 346.0,745.7"/></clipPath>
<g clip-path="url(#cg1)">
<line x1="766.8" y1="669.4" x2="663.0" y2="793.5" stroke="#707070" stroke-width="5.0" />
<line x1="765.4" y1="669.4" x2="661.6" y2="793.5" stroke="#2a2a2a" stroke-width="1.8" />
<line x1="428.4" y1="634.8" x2="1085.8" y2="729.7" stroke="url(#gw)" stroke-width="7.0" />
<line x1="428.4" y1="634.2" x2="1085.8" y2="729.1" stroke="url(#gh)" stroke-width="1.6" />
<line x1="412.3" y1="653.5" x2="1072.1" y2="750.1" stroke="url(#gw)" stroke-width="7.0" />
<line x1="412.3" y1="652.9" x2="1072.1" y2="749.5" stroke="url(#gh)" stroke-width="1.6" />
<line x1="395.2" y1="670.7" x2="1058.4" y2="770.8" stroke="url(#gw)" stroke-width="7.0" />
<line x1="395.2" y1="670.1" x2="1058.4" y2="770.2" stroke="url(#gh)" stroke-width="1.6" />
<line x1="377.2" y1="690.0" x2="1043.1" y2="791.6" stroke="url(#gw)" stroke-width="7.0" />
<line x1="377.2" y1="689.4" x2="1043.1" y2="791.0" stroke="url(#gh)" stroke-width="1.6" />
<line x1="357.0" y1="709.1" x2="1029.5" y2="812.3" stroke="url(#gw)" stroke-width="7.0" />
<line x1="357.0" y1="708.5" x2="1029.5" y2="811.7" stroke="url(#gh)" stroke-width="1.6" />
<line x1="337.8" y1="728.7" x2="1016.0" y2="833.3" stroke="url(#gw)" stroke-width="7.0" />
<line x1="337.8" y1="728.1" x2="1016.0" y2="832.7" stroke="url(#gh)" stroke-width="1.6" />
</g>
<path fill-rule="evenodd" fill="url(#gt)" d="M451.0,609.0 L1102.4,703.5 L1000.6,857.6 L311.6,748.4 Z M459.9,617.5 L1079.4,707.6 L989.1,845.4 L335.8,743.5 Z"/>
<polyline points="335.8,743.5 459.9,617.5 460.9,633.5 1070.3,721.3" fill="none" stroke="#8c8c8c" stroke-width="0.9" opacity="0.9"/>
<polyline points="1102.4,703.5 1000.6,857.6 1000.6,874.6" fill="none" stroke="#9a9a9a" stroke-width="0.9" opacity="0.85"/>
<polyline points="311.6,748.4 1000.6,857.6" fill="none" stroke="#555" stroke-width="0.8" opacity="0.8"/>
<ellipse cx="1082.5" cy="743.7" rx="1.4" ry="2.4" fill="#8a8a8a"/>
<ellipse cx="1021.5" cy="836.1" rx="1.4" ry="2.4" fill="#8a8a8a"/>
<polygon points="452.6,811.8 1098.2,914.3 1098.2,933.3 997.9,1096.0 314.5,980.4 314.5,960.0" fill="#0b0b0b" />
<polygon points="314.5,960.0 997.9,1077.0 997.9,1096.0 314.5,980.4" fill="url(#gf)" />
<polygon points="460.0,837.0 1065.0,933.0 986.3,1066.5 349.0,959.0" fill="#ffffff" />
<clipPath id="cg2"><polygon points="460.0,837.0 1065.0,933.0 986.3,1066.5 349.0,959.0"/></clipPath>
<g clip-path="url(#cg2)">
<line x1="765.4" y1="878.0" x2="661.9" y2="1010.9" stroke="#707070" stroke-width="5.0" />
<line x1="764.0" y1="878.0" x2="660.5" y2="1010.9" stroke="#2a2a2a" stroke-width="1.8" />
<line x1="428.6" y1="838.1" x2="1080.5" y2="941.4" stroke="url(#gw)" stroke-width="7.0" />
<line x1="428.6" y1="837.5" x2="1080.5" y2="940.8" stroke="url(#gh)" stroke-width="1.6" />
<line x1="411.4" y1="856.8" x2="1067.1" y2="962.3" stroke="url(#gw)" stroke-width="7.0" />
<line x1="411.4" y1="856.2" x2="1067.1" y2="961.7" stroke="url(#gh)" stroke-width="1.6" />
<line x1="393.8" y1="877.1" x2="1053.7" y2="984.0" stroke="url(#gw)" stroke-width="7.0" />
<line x1="393.8" y1="876.5" x2="1053.7" y2="983.4" stroke="url(#gh)" stroke-width="1.6" />
<line x1="374.7" y1="898.8" x2="1039.3" y2="1007.5" stroke="url(#gw)" stroke-width="7.0" />
<line x1="374.7" y1="898.2" x2="1039.3" y2="1006.9" stroke="url(#gh)" stroke-width="1.6" />
<line x1="355.6" y1="919.0" x2="1024.9" y2="1030.8" stroke="url(#gw)" stroke-width="7.0" />
<line x1="355.6" y1="918.4" x2="1024.9" y2="1030.2" stroke="url(#gh)" stroke-width="1.6" />
<line x1="338.0" y1="940.3" x2="1010.5" y2="1054.1" stroke="url(#gw)" stroke-width="7.0" />
<line x1="338.0" y1="939.7" x2="1010.5" y2="1053.5" stroke="url(#gh)" stroke-width="1.6" />
</g>
<path fill-rule="evenodd" fill="url(#gt)" d="M452.6,811.8 L1098.2,914.3 L997.9,1077.0 L314.5,960.0 Z M461.5,820.5 L1074.5,918.7 L986.3,1066.5 L338.5,956.5 Z"/>
<polyline points="338.5,956.5 461.5,820.5 462.5,836.5 1065.0,933.0" fill="none" stroke="#8c8c8c" stroke-width="0.9" opacity="0.9"/>
<polyline points="1098.2,914.3 997.9,1077.0 997.9,1096.0" fill="none" stroke="#9a9a9a" stroke-width="0.9" opacity="0.85"/>
<polyline points="314.5,960.0 997.9,1077.0" fill="none" stroke="#555" stroke-width="0.8" opacity="0.8"/>
<ellipse cx="1078.6" cy="957.3" rx="1.4" ry="2.4" fill="#8a8a8a"/>
<ellipse cx="1018.5" cy="1054.9" rx="1.4" ry="2.4" fill="#8a8a8a"/>
<polygon points="445.9,1035.8 456.0,1046.3 456.0,1061.6 358.4,1182.0 335.7,1184.8 335.7,1207.5 318.2,1204.5 318.2,1187.0" fill="#0c0c0c" />
<polygon points="1075.8,1145.7 1075.8,1158.5 983.5,1327.7 962.6,1324.7 962.6,1307.8 1042.9,1165.0" fill="#161616" />
<polygon points="1075.8,1145.7 1075.8,1158.5 983.5,1327.7 983.5,1312.6" fill="#080808" />
<line x1="1075.8" y1="1145.7" x2="983.5" y2="1312.6" stroke="#8a8a8a" stroke-width="0.9" />
<polygon points="445.9,1035.8 1075.8,1145.7 1075.8,1153.0 1042.9,1166.0 456.0,1061.6 456.0,1046.3" fill="#0c0c0c" />
<path d="M486.7,1055 L391,1172.5" fill="none" stroke="#0a0a0a" stroke-width="8.0" stroke-linecap="round" stroke-linejoin="round"/>
<path d="M486.7,1055 L391,1172.5" fill="none" stroke="#5a5a5a" stroke-width="2.2" stroke-linecap="round" stroke-linejoin="round" transform="translate(-0.9,-0.5)" opacity="0.85"/>
<path d="M338,1186.5 L370,1189.5 Q384,1190 391,1172.5" fill="none" stroke="#0a0a0a" stroke-width="11.0" stroke-linecap="round" stroke-linejoin="round"/>
<ellipse cx="366.5" cy="1191.8" rx="3.4" ry="1.8" fill="#eee"/>
<path d="M344,1184 L372,1186" stroke="#3a3a3a" stroke-width="2" fill="none"/>
<path d="M563.0,1069.8 L455.0,1199.6" fill="none" stroke="#0a0a0a" stroke-width="8.2" stroke-linecap="round" stroke-linejoin="round"/>
<path d="M563.0,1069.8 L455.0,1199.6" fill="none" stroke="#5a5a5a" stroke-width="2.3" stroke-linecap="round" stroke-linejoin="round" transform="translate(-0.9,-0.5)" opacity="0.85"/>
<path d="M635.0,1082.0 L542.9,1209.9" fill="none" stroke="#0a0a0a" stroke-width="8.2" stroke-linecap="round" stroke-linejoin="round"/>
<path d="M635.0,1082.0 L542.9,1209.9" fill="none" stroke="#5a5a5a" stroke-width="2.3" stroke-linecap="round" stroke-linejoin="round" transform="translate(-0.9,-0.5)" opacity="0.85"/>
<path d="M455.0,1199.6 L453.5,1205.5 L524.0,1217.5 Q537.0,1220.0 542.9,1209.9" fill="none" stroke="#0a0a0a" stroke-width="11.5" stroke-linecap="round" stroke-linejoin="round"/>
<path d="M461.5,1206.7 L522.0,1217.5" fill="none" stroke="#3a3a3a" stroke-width="2.2" stroke-linecap="round" transform="translate(0,-2.2)"/>
<ellipse cx="453.0" cy="1206.5" rx="3.6" ry="2.6" fill="#f2f2f2" transform="rotate(25 453.0 1206.5)"/>
<ellipse cx="529.5" cy="1222.1" rx="3.2" ry="1.8" fill="#eaeaea" transform="rotate(8 529.5 1222.1)"/>
<path d="M715.0,1095.0 L611.3,1230.4" fill="none" stroke="#0a0a0a" stroke-width="8.2" stroke-linecap="round" stroke-linejoin="round"/>
<path d="M715.0,1095.0 L611.3,1230.4" fill="none" stroke="#5a5a5a" stroke-width="2.3" stroke-linecap="round" stroke-linejoin="round" transform="translate(-0.9,-0.5)" opacity="0.85"/>
<path d="M787.5,1108.3 L696.8,1239.6" fill="none" stroke="#0a0a0a" stroke-width="8.2" stroke-linecap="round" stroke-linejoin="round"/>
<path d="M787.5,1108.3 L696.8,1239.6" fill="none" stroke="#5a5a5a" stroke-width="2.3" stroke-linecap="round" stroke-linejoin="round" transform="translate(-0.9,-0.5)" opacity="0.85"/>
<path d="M611.3,1230.4 L610.0,1236.5 L678.4,1247.6 Q691.0,1250.0 696.8,1239.6" fill="none" stroke="#0a0a0a" stroke-width="11.5" stroke-linecap="round" stroke-linejoin="round"/>
<path d="M618.0,1237.7 L676.4,1247.6" fill="none" stroke="#3a3a3a" stroke-width="2.2" stroke-linecap="round" transform="translate(0,-2.2)"/>
<ellipse cx="609.5" cy="1237.5" rx="3.6" ry="2.6" fill="#f2f2f2" transform="rotate(25 609.5 1237.5)"/>
<ellipse cx="683.5" cy="1252.1" rx="3.2" ry="1.8" fill="#eaeaea" transform="rotate(8 683.5 1252.1)"/>
<path d="M867.5,1121.4 L772.5,1258.8" fill="none" stroke="#0a0a0a" stroke-width="8.2" stroke-linecap="round" stroke-linejoin="round"/>
<path d="M867.5,1121.4 L772.5,1258.8" fill="none" stroke="#5a5a5a" stroke-width="2.3" stroke-linecap="round" stroke-linejoin="round" transform="translate(-0.9,-0.5)" opacity="0.85"/>
<path d="M943.0,1134.5 L858.4,1267.5" fill="none" stroke="#0a0a0a" stroke-width="8.2" stroke-linecap="round" stroke-linejoin="round"/>
<path d="M943.0,1134.5 L858.4,1267.5" fill="none" stroke="#5a5a5a" stroke-width="2.3" stroke-linecap="round" stroke-linejoin="round" transform="translate(-0.9,-0.5)" opacity="0.85"/>
<path d="M772.5,1258.8 L771.5,1265.0 L840.3,1275.7 Q853.0,1278.0 858.4,1267.5" fill="none" stroke="#0a0a0a" stroke-width="11.5" stroke-linecap="round" stroke-linejoin="round"/>
<path d="M779.5,1266.2 L838.3,1275.7" fill="none" stroke="#3a3a3a" stroke-width="2.2" stroke-linecap="round" transform="translate(0,-2.2)"/>
<ellipse cx="771.0" cy="1266.0" rx="3.6" ry="2.6" fill="#f2f2f2" transform="rotate(25 771.0 1266.0)"/>
<ellipse cx="845.5" cy="1280.1" rx="3.2" ry="1.8" fill="#eaeaea" transform="rotate(8 845.5 1280.1)"/>
<path d="M1024.4,1149 L936,1292.5" fill="none" stroke="#0a0a0a" stroke-width="8.2" stroke-linecap="round" stroke-linejoin="round"/>
<path d="M1024.4,1149 L936,1292.5" fill="none" stroke="#5a5a5a" stroke-width="2.3" stroke-linecap="round" stroke-linejoin="round" transform="translate(-0.9,-0.5)" opacity="0.85"/>
<path d="M936,1292.5 L938,1296.5 L968,1302.5" fill="none" stroke="#0a0a0a" stroke-width="11.5" stroke-linecap="round" stroke-linejoin="round"/>
<ellipse cx="936.5" cy="1296" rx="3.4" ry="2.5" fill="#f2f2f2" transform="rotate(25 936.5 1296)"/>
<path d="M945,1295.5 L966,1299.5" stroke="#3a3a3a" stroke-width="2" fill="none"/>
<polygon points="962.6,1307.8 985.0,1268.0 1000.0,1282.5 983.5,1312.6 983.5,1327.7 962.6,1324.7" fill="#121212" />
<polygon points="962.6,1307.8 974.0,1310.0 983.5,1312.6 983.5,1327.7 962.6,1324.7" fill="#0a0a0a" />
<polygon points="318.2,1187.0 335.7,1184.8 335.7,1207.5 318.2,1204.5" fill="#101010" />
<polygon points="323.0,1187.5 334.0,1183.0 335.0,1186.5 328.0,1189.5" fill="#e8e8e8" />
<polyline points="343.8,1178.3 454.6,1046.3 455.5,1060.5" fill="none" stroke="#8a8a8a" stroke-width="0.9" opacity="0.85"/>
<line x1="456.0" y1="1046.3" x2="1062.0" y2="1150.5" stroke="#3c3c3c" stroke-width="0.9" />
<line x1="1043.3" y1="1165.0" x2="963.4" y2="1307.4" stroke="#777" stroke-width="0.8" />
<ellipse cx="426.3" cy="1066.5" rx="1.6" ry="2.0" fill="#ddd"/>
<ellipse cx="430.7" cy="1066.8" rx="1.6" ry="2.0" fill="#ddd"/>
<ellipse cx="350.3" cy="1156.0" rx="1.6" ry="2.0" fill="#ddd"/>
<ellipse cx="354.7" cy="1156.3" rx="1.6" ry="2.0" fill="#ddd"/>
<ellipse cx="1048.0" cy="1175.0" rx="3.0" ry="2.6" fill="#0c0c0c" stroke="#aaa" stroke-width="0.9"/>
<ellipse cx="991.0" cy="1272.0" rx="3.0" ry="2.6" fill="#0c0c0c" stroke="#aaa" stroke-width="0.9"/>
<polygon points="1196.5,457.0 1198.0,452.5 1204.0,448.0 1234.6,452.5 1226.0,800.0 1221.0,1007.5 1191.8,1007.5 1191.8,520.0" fill="#b32424" />
<polygon points="1221.0,451.0 1234.6,452.5 1226.0,800.0 1221.0,1007.5 1214.0,1007.5" fill="#d7302b" />
<polygon points="1196.5,457.0 1198.0,452.5 1204.0,448.0 1222.0,450.5 1221.0,490.0 1212.5,484.0 1195.5,499.0" fill="#d7302b" />
<path fill-rule="evenodd" fill="#dc312c" d="M1212.2,484.0 L1212.2,533.5 L1221.0,560.0 L1226.0,800.0 L1221.0,1007.5 L1123.8,1189.8 L1120.0,1120.0 L1129.0,830.0 L1130.5,656.7 L1132.7,647.2 L1146.6,572.9 L1152.5,565.6 Z M1140.8,702.6 L1221.0,581.6 L1221.0,628.3 L1140.8,742.0 Z M1140.0,784.0 L1221.0,660.0 L1221.0,704.0 L1139.5,825.0 Z"/>
<polygon points="1140.8,702.6 1191.8,625.7 1191.8,669.7 1140.8,742.0" fill="#ffffff" />
<polygon points="1140.0,784.0 1191.8,704.7 1191.8,747.4 1139.5,825.0" fill="#ffffff" />
<defs><linearGradient id="rfl" gradientUnits="userSpaceOnUse" x1="1098" y1="1140" x2="1120" y2="1188"><stop offset="0" stop-color="#ffc9bd"/><stop offset="0.55" stop-color="#f4705f"/><stop offset="1" stop-color="#e6382e"/></linearGradient></defs>
<polygon points="1120.2,1121.0 1084.6,1183.3 1123.4,1190.0 1121.2,1120.0" fill="url(#rfl)" />
<line x1="1084.8" y1="1183.5" x2="1123.5" y2="1190.3" stroke="#c41c1c" stroke-width="1.6" />
<polyline points="1212.0,484.5 1153.0,566.0 1147.3,573.5 1133.5,647.5 1131.3,657.0 1129.8,830.0 1120.8,1120.0" fill="none" stroke="#f79a90" stroke-width="1.1" opacity="0.9"/>
<polyline points="1140.8,742.0 1221.0,628.3" fill="none" stroke="#f7a59a" stroke-width="1.0" opacity="0.9"/>
<polyline points="1140.8,702.6 1221.0,581.6" fill="none" stroke="#a81a1a" stroke-width="1.0" opacity="0.7"/>
<polyline points="1139.5,825.0 1221.0,704.0" fill="none" stroke="#f7a59a" stroke-width="1.0" opacity="0.9"/>
<polyline points="1140.0,784.0 1221.0,660.0" fill="none" stroke="#a81a1a" stroke-width="1.0" opacity="0.7"/>
<line x1="1221.0" y1="520.0" x2="1221.0" y2="700.0" stroke="#f4908a" stroke-width="0.9" />
<polygon points="1209.0,600.0 1215.0,592.0 1217.0,606.0 1211.0,611.0" fill="#fff" />
<ellipse cx="1212.5" cy="551.0" rx="1.6" ry="3.6" fill="#b51a1a" transform="rotate(15 1212.5 551.0)"/>
<ellipse cx="1212.0" cy="551.5" rx="0.9" ry="1.6" fill="#f7d0cc"/>
<ellipse cx="1155.5" cy="638.0" rx="1.6" ry="3.6" fill="#b51a1a" transform="rotate(15 1155.5 638.0)"/>
<ellipse cx="1155.0" cy="638.5" rx="0.9" ry="1.6" fill="#f7d0cc"/>
<ellipse cx="1207.5" cy="742.0" rx="1.6" ry="3.6" fill="#b51a1a" transform="rotate(15 1207.5 742.0)"/>
<ellipse cx="1207.0" cy="742.5" rx="0.9" ry="1.6" fill="#f7d0cc"/>
<ellipse cx="1152.5" cy="829.0" rx="1.6" ry="3.6" fill="#b51a1a" transform="rotate(15 1152.5 829.0)"/>
<ellipse cx="1152.0" cy="829.5" rx="0.9" ry="1.6" fill="#f7d0cc"/>
<ellipse cx="1203.5" cy="922.0" rx="1.6" ry="3.6" fill="#b51a1a" transform="rotate(15 1203.5 922.0)"/>
<ellipse cx="1203.0" cy="922.5" rx="0.9" ry="1.6" fill="#f7d0cc"/>
<ellipse cx="1201.5" cy="992.0" rx="1.6" ry="3.6" fill="#b51a1a" transform="rotate(15 1201.5 992.0)"/>
<ellipse cx="1201.0" cy="992.5" rx="0.9" ry="1.6" fill="#f7d0cc"/>
<ellipse cx="1147.0" cy="1020.0" rx="1.6" ry="3.6" fill="#b51a1a" transform="rotate(15 1147.0 1020.0)"/>
<ellipse cx="1146.5" cy="1020.5" rx="0.9" ry="1.6" fill="#f7d0cc"/>
<ellipse cx="1147.0" cy="1090.0" rx="1.6" ry="3.6" fill="#b51a1a" transform="rotate(15 1147.0 1090.0)"/>
<ellipse cx="1146.5" cy="1090.5" rx="0.9" ry="1.6" fill="#f7d0cc"/>
<ellipse cx="1117" cy="1146.5" rx="1.5" ry="3.6" fill="#6a1010" transform="rotate(28 1117 1146.5)"/>
<ellipse cx="1118" cy="1149" rx="0.9" ry="1.6" fill="#fff" transform="rotate(28 1118 1149)"/>
<polygon points="1321.7,711.2 1357.7,717.4 1282.0,851.4 1232.4,841.5" fill="#d95050" />
<polygon points="1232.4,841.5 1282.0,851.4 1282.0,854.9 1238.4,846.0 1237.4,855.5 1231.4,855.5 1231.4,843.5" fill="#e02a2a" />
<line x1="1321.7" y1="711.2" x2="1232.4" y2="841.5" stroke="#e66a6a" stroke-width="1.2" />
<line x1="1357.7" y1="717.4" x2="1282.0" y2="851.4" stroke="#c43c3c" stroke-width="1.2" />
<ellipse cx="1264.7" cy="837.8" rx="2.7" ry="1.6" fill="#fff" transform="rotate(-8 1264.7 837.8)"/>
<rect x="1263.6" y="836.1" width="2.0" height="1.1" fill="#b02020"/>
<ellipse cx="1269.6" cy="829.3" rx="3.2" ry="1.9" fill="#fff" transform="rotate(-8 1269.6 829.3)"/>
<rect x="1268.3" y="827.3" width="2.4" height="1.3" fill="#b02020"/>
<ellipse cx="1274.9" cy="820.3" rx="3.7" ry="2.2" fill="#fff" transform="rotate(-8 1274.9 820.3)"/>
<rect x="1273.4" y="818.0" width="2.7" height="1.5" fill="#b02020"/>
<ellipse cx="1280.5" cy="810.7" rx="4.2" ry="2.5" fill="#fff" transform="rotate(-8 1280.5 810.7)"/>
<rect x="1278.8" y="808.1" width="3.1" height="1.7" fill="#b02020"/>
<ellipse cx="1286.4" cy="800.5" rx="4.6" ry="2.8" fill="#fff" transform="rotate(-8 1286.4 800.5)"/>
<rect x="1284.5" y="797.6" width="3.4" height="1.9" fill="#b02020"/>
<ellipse cx="1292.6" cy="789.8" rx="5.1" ry="3.0" fill="#fff" transform="rotate(-8 1292.6 789.8)"/>
<rect x="1290.5" y="786.6" width="3.8" height="2.1" fill="#b02020"/>
<ellipse cx="1299.2" cy="778.5" rx="5.6" ry="3.3" fill="#fff" transform="rotate(-8 1299.2 778.5)"/>
<rect x="1296.9" y="775.0" width="4.2" height="2.3" fill="#b02020"/>
<ellipse cx="1306.1" cy="766.7" rx="6.1" ry="3.6" fill="#fff" transform="rotate(-8 1306.1 766.7)"/>
<rect x="1303.6" y="762.8" width="4.5" height="2.5" fill="#b02020"/>
<ellipse cx="1313.3" cy="754.3" rx="6.6" ry="3.9" fill="#fff" transform="rotate(-8 1313.3 754.3)"/>
<rect x="1310.6" y="750.1" width="4.9" height="2.7" fill="#b02020"/>
<ellipse cx="1321.5" cy="740.1" rx="7.1" ry="4.2" fill="#fff" transform="rotate(-8 1321.5 740.1)"/>
<rect x="1318.6" y="735.7" width="5.2" height="2.9" fill="#b02020"/>
<ellipse cx="1330.4" cy="724.9" rx="7.6" ry="4.5" fill="#fff" transform="rotate(-8 1330.4 724.9)"/>
<rect x="1327.3" y="720.1" width="5.6" height="3.1" fill="#b02020"/>
<polygon points="1313.0,629.3 1360.2,638.0 1280.8,768.3 1233.6,758.4" fill="#d95050" />
<polygon points="1233.6,758.4 1280.8,768.3 1280.8,771.8 1239.6,762.9 1238.6,772.4 1232.6,772.4 1232.6,760.4" fill="#e02a2a" />
<line x1="1313.0" y1="629.3" x2="1233.6" y2="758.4" stroke="#e66a6a" stroke-width="1.2" />
<line x1="1360.2" y1="638.0" x2="1280.8" y2="768.3" stroke="#c43c3c" stroke-width="1.2" />
<ellipse cx="1268.4" cy="753.4" rx="2.7" ry="1.6" fill="#fff" transform="rotate(-8 1268.4 753.4)"/>
<rect x="1267.3" y="751.7" width="2.0" height="1.1" fill="#b02020"/>
<ellipse cx="1273.2" cy="745.0" rx="3.2" ry="1.9" fill="#fff" transform="rotate(-8 1273.2 745.0)"/>
<rect x="1271.9" y="743.0" width="2.4" height="1.3" fill="#b02020"/>
<ellipse cx="1278.4" cy="736.1" rx="3.7" ry="2.2" fill="#fff" transform="rotate(-8 1278.4 736.1)"/>
<rect x="1276.9" y="733.8" width="2.7" height="1.5" fill="#b02020"/>
<ellipse cx="1283.9" cy="726.6" rx="4.2" ry="2.5" fill="#fff" transform="rotate(-8 1283.9 726.6)"/>
<rect x="1282.2" y="724.0" width="3.1" height="1.7" fill="#b02020"/>
<ellipse cx="1289.7" cy="716.5" rx="4.6" ry="2.8" fill="#fff" transform="rotate(-8 1289.7 716.5)"/>
<rect x="1287.8" y="713.6" width="3.4" height="1.9" fill="#b02020"/>
<ellipse cx="1295.9" cy="705.9" rx="5.1" ry="3.0" fill="#fff" transform="rotate(-8 1295.9 705.9)"/>
<rect x="1293.8" y="702.7" width="3.8" height="2.1" fill="#b02020"/>
<ellipse cx="1302.3" cy="694.8" rx="5.6" ry="3.3" fill="#fff" transform="rotate(-8 1302.3 694.8)"/>
<rect x="1300.0" y="691.2" width="4.2" height="2.3" fill="#b02020"/>
<ellipse cx="1309.1" cy="683.0" rx="6.1" ry="3.6" fill="#fff" transform="rotate(-8 1309.1 683.0)"/>
<rect x="1306.6" y="679.2" width="4.5" height="2.5" fill="#b02020"/>
<ellipse cx="1316.2" cy="670.7" rx="6.6" ry="3.9" fill="#fff" transform="rotate(-8 1316.2 670.7)"/>
<rect x="1313.5" y="666.6" width="4.9" height="2.7" fill="#b02020"/>
<ellipse cx="1324.3" cy="656.8" rx="7.1" ry="4.2" fill="#fff" transform="rotate(-8 1324.3 656.8)"/>
<rect x="1321.4" y="652.3" width="5.2" height="2.9" fill="#b02020"/>
<ellipse cx="1333.0" cy="641.7" rx="7.6" ry="4.5" fill="#fff" transform="rotate(-8 1333.0 641.7)"/>
<rect x="1329.9" y="636.9" width="5.6" height="3.1" fill="#b02020"/>
<polygon points="1312.0,631.0 1315.0,627.0 1317.0,628.0 1314.0,633.0" fill="#c63c3c" />
<polygon points="1287.0,672.0 1290.0,668.0 1292.0,669.0 1289.0,674.0" fill="#c63c3c" />
<polygon points="1260.0,714.0 1263.0,710.0 1265.0,711.0 1262.0,716.0" fill="#c63c3c" />
<polygon points="1261.0,796.0 1264.0,792.0 1266.0,793.0 1263.0,798.0" fill="#c63c3c" />
<path d="M1301.7,941 L1302.5,928 C1303.5,913 1319,912 1319,927 L1319,1022 C1320,1046 1352,1046 1352.8,1018.4" fill="none" stroke="#111" stroke-width="4.3" stroke-linecap="round" stroke-linejoin="round"/>
<path d="M1301.7,941 L1302.5,928 C1303.5,913 1319,912 1319,927 L1319,1022 C1320,1046 1352,1046 1352.8,1018.4" fill="none" stroke="#8a8a8a" stroke-width="0.9" stroke-linecap="round" transform="translate(-0.8,0)" opacity="0.75"/>
<path d="M1249.6,1042 L1250.5,1028 C1251.5,1012 1266,1011.5 1266,1026 L1266.5,1122 C1267.5,1148 1300.5,1148 1301.5,1119.7" fill="none" stroke="#111" stroke-width="4.3" stroke-linecap="round" stroke-linejoin="round"/>
<path d="M1249.6,1042 L1250.5,1028 C1251.5,1012 1266,1011.5 1266,1026 L1266.5,1122 C1267.5,1148 1300.5,1148 1301.5,1119.7" fill="none" stroke="#8a8a8a" stroke-width="0.9" stroke-linecap="round" transform="translate(-0.8,0)" opacity="0.75"/>
<line x1="1394.7" y1="485.0" x2="1402.6" y2="962.4" stroke="#111" stroke-width="2.7" stroke-dasharray="10.8 6.3"/>
<polygon points="1394.0,445.0 1385.5,485.1 1403.9,484.8" fill="#111" />
<polygon points="1403.3,1002.4 1393.4,962.6 1411.8,962.3" fill="#111" />
<line x1="1383.2" y1="1047.8" x2="1308.3" y2="1203.2" stroke="#111" stroke-width="2.7" stroke-dasharray="10.8 6.3"/>
<polygon points="1401.5,1010.0 1375.0,1043.8 1391.5,1051.8" fill="#111" />
<polygon points="1290.0,1241.0 1300.0,1199.2 1316.5,1207.2" fill="#111" />
<line x1="112.1" y1="1186.1" x2="1043.7" y2="1359.7" stroke="#111" stroke-width="2.7" stroke-dasharray="10.8 6.3"/>
<polygon points="72.8,1178.8 110.4,1195.2 113.8,1177.1" fill="#111" />
<polygon points="1083.0,1367.0 1042.0,1368.7 1045.4,1350.6" fill="#111" />
<g>
<rect x="1247.3" y="556.9" width="141.4" height="50.6" rx="5.5" fill="#d8352f"/>
<text x="1255.5" y="601.0" font-family="'Liberation Sans',sans-serif" font-weight="700" font-size="49.0" fill="#fff" stroke="#fff" stroke-width="0.6" textLength="126.0" lengthAdjust="spacingAndGlyphs">14.56&quot;</text>
</g>
<g>
<rect x="440.2" y="1290.5" width="141.0" height="51.0" rx="5.5" fill="#d8352f"/>
<text x="448.8" y="1334.8" font-family="'Liberation Sans',sans-serif" font-weight="700" font-size="49.0" fill="#fff" stroke="#fff" stroke-width="0.6" textLength="124.6" lengthAdjust="spacingAndGlyphs">14.56&quot;</text>
</g>
<g transform="translate(1385.2,1131.3) rotate(-63.2)">
<rect x="-47" y="-25.5" width="94" height="51" rx="6" fill="#d8352f"/>
<text x="-41" y="20.6" font-family="'Liberation Sans',sans-serif" font-weight="700" font-size="49" fill="#fff" stroke="#fff" stroke-width="0.6" textLength="77.5" lengthAdjust="spacingAndGlyphs">8.6&quot;</text>
</g>
</svg>
</body></html>
